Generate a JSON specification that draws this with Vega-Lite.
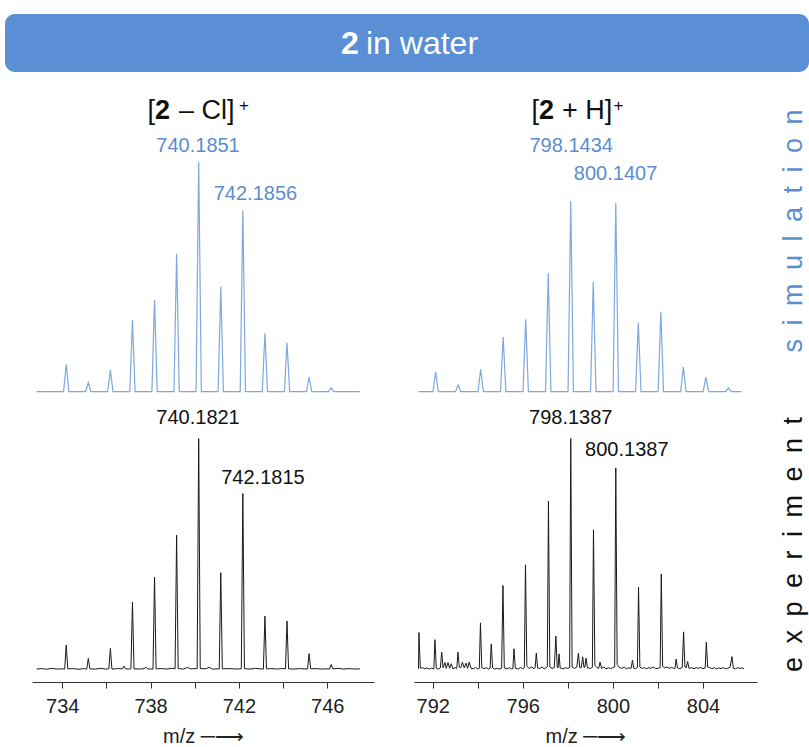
{
  "$schema": "https://vega.github.io/schema/vega-lite/v6.json",
  "autosize": {"type": "pad"},
  "padding": {"left": 5, "top": 14, "right": 0, "bottom": 0},
  "config": {"view": {"stroke": null}, "font": "Liberation Sans"},
  "datasets": {
    "ls": [
      {"mz":732.84,"i":0},
      {"mz":734.06,"i":0},{"mz":734.18,"i":11.9},{"mz":734.30,"i":0},
      {"mz":735.06,"i":0},{"mz":735.18,"i":3.9},{"mz":735.30,"i":0},
      {"mz":736.06,"i":0},{"mz":736.18,"i":9.4},{"mz":736.30,"i":0},
      {"mz":737.06,"i":0},{"mz":737.18,"i":31.2},{"mz":737.30,"i":0},
      {"mz":738.06,"i":0},{"mz":738.18,"i":39.9},{"mz":738.30,"i":0},
      {"mz":739.06,"i":0},{"mz":739.18,"i":60.0},{"mz":739.30,"i":0},
      {"mz":740.06,"i":0},{"mz":740.18,"i":100},{"mz":740.30,"i":0},
      {"mz":741.06,"i":0},{"mz":741.18,"i":45.7},{"mz":741.30,"i":0},
      {"mz":742.06,"i":0},{"mz":742.18,"i":78.9},{"mz":742.30,"i":0},
      {"mz":743.06,"i":0},{"mz":743.18,"i":25.4},{"mz":743.30,"i":0},
      {"mz":744.06,"i":0},{"mz":744.18,"i":21.3},{"mz":744.30,"i":0},
      {"mz":745.06,"i":0},{"mz":745.18,"i":6.4},{"mz":745.30,"i":0},
      {"mz":746.06,"i":0},{"mz":746.18,"i":1.7},{"mz":746.30,"i":0},
      {"mz":747.48,"i":0}
    ],
    "rs": [
      {"mz":791.36,"i":0},
      {"mz":792.01,"i":0},{"mz":792.13,"i":8.7},{"mz":792.25,"i":0},
      {"mz":793.01,"i":0},{"mz":793.13,"i":2.9},{"mz":793.25,"i":0},
      {"mz":794.01,"i":0},{"mz":794.13,"i":9.7},{"mz":794.25,"i":0},
      {"mz":795.01,"i":0},{"mz":795.13,"i":23.8},{"mz":795.25,"i":0},
      {"mz":796.01,"i":0},{"mz":796.13,"i":31.5},{"mz":796.25,"i":0},
      {"mz":797.01,"i":0},{"mz":797.13,"i":51.5},{"mz":797.25,"i":0},
      {"mz":798.01,"i":0},{"mz":798.13,"i":83.0},{"mz":798.25,"i":0},
      {"mz":799.01,"i":0},{"mz":799.13,"i":47.9},{"mz":799.25,"i":0},
      {"mz":800.01,"i":0},{"mz":800.13,"i":82.1},{"mz":800.25,"i":0},
      {"mz":801.01,"i":0},{"mz":801.13,"i":30.0},{"mz":801.25,"i":0},
      {"mz":802.01,"i":0},{"mz":802.13,"i":34.8},{"mz":802.25,"i":0},
      {"mz":803.01,"i":0},{"mz":803.13,"i":10.7},{"mz":803.25,"i":0},
      {"mz":804.01,"i":0},{"mz":804.13,"i":6.4},{"mz":804.25,"i":0},
      {"mz":805.01,"i":0},{"mz":805.13,"i":1.7},{"mz":805.25,"i":0},
      {"mz":805.73,"i":0}
    ],
    "le": [
      {"mz":732.84,"i":0.2},{"mz":733.1,"i":0.4},{"mz":733.3,"i":0.1},{"mz":733.5,"i":0.5},{"mz":733.75,"i":0.2},{"mz":734.0,"i":0.3},
      {"mz":734.11,"i":0.2},{"mz":734.18,"i":10.6},{"mz":734.25,"i":0.3},{"mz":734.5,"i":0.4},{"mz":734.75,"i":0.1},{"mz":734.95,"i":0.4},
      {"mz":735.11,"i":0.2},{"mz":735.18,"i":4.8},{"mz":735.25,"i":0.3},{"mz":735.5,"i":0.2},{"mz":735.75,"i":0.5},{"mz":735.95,"i":0.2},
      {"mz":736.11,"i":0.3},{"mz":736.18,"i":9.1},{"mz":736.25,"i":0.2},{"mz":736.5,"i":0.4},{"mz":736.72,"i":0.3},{"mz":736.79,"i":1.5},{"mz":736.86,"i":0.3},{"mz":737.0,"i":0.2},
      {"mz":737.11,"i":0.3},{"mz":737.18,"i":29.2},{"mz":737.25,"i":0.3},{"mz":737.5,"i":0.2},{"mz":737.72,"i":0.4},{"mz":737.78,"i":1.1},{"mz":737.85,"i":0.3},
      {"mz":738.11,"i":0.2},{"mz":738.18,"i":40.0},{"mz":738.25,"i":0.3},{"mz":738.5,"i":0.4},{"mz":738.75,"i":0.2},{"mz":738.95,"i":0.5},
      {"mz":739.11,"i":0.3},{"mz":739.18,"i":58.2},{"mz":739.25,"i":0.4},{"mz":739.5,"i":0.2},{"mz":739.68,"i":0.9},{"mz":739.8,"i":0.3},
      {"mz":740.11,"i":0.4},{"mz":740.18,"i":100},{"mz":740.25,"i":0.4},{"mz":740.5,"i":0.3},{"mz":740.65,"i":1.0},{"mz":740.8,"i":0.2},
      {"mz":741.11,"i":0.3},{"mz":741.18,"i":41.9},{"mz":741.25,"i":0.3},{"mz":741.5,"i":0.4},{"mz":741.75,"i":0.3},{"mz":741.95,"i":0.2},
      {"mz":742.11,"i":0.4},{"mz":742.18,"i":76.2},{"mz":742.25,"i":0.4},{"mz":742.5,"i":0.2},{"mz":742.75,"i":0.5},{"mz":742.95,"i":0.3},
      {"mz":743.11,"i":0.2},{"mz":743.18,"i":23.1},{"mz":743.25,"i":0.3},{"mz":743.5,"i":0.4},{"mz":743.75,"i":0.2},{"mz":743.95,"i":0.4},
      {"mz":744.11,"i":0.3},{"mz":744.18,"i":21.0},{"mz":744.25,"i":0.3},{"mz":744.5,"i":0.2},{"mz":744.75,"i":0.4},{"mz":744.95,"i":0.3},
      {"mz":745.11,"i":0.2},{"mz":745.18,"i":6.9},{"mz":745.25,"i":0.3},{"mz":745.5,"i":0.4},{"mz":745.75,"i":0.2},{"mz":746.0,"i":0.3},
      {"mz":746.11,"i":0.2},{"mz":746.18,"i":2.2},{"mz":746.25,"i":0.3},{"mz":746.5,"i":0.5},{"mz":746.75,"i":0.2},{"mz":747.0,"i":0.4},{"mz":747.25,"i":0.2},{"mz":747.48,"i":0.3}
    ],
    "re": [
      {"mz":791.37,"i":0.4},{"mz":791.39,"i":16.0},{"mz":791.45,"i":0.6},{"mz":791.55,"i":0.8},{"mz":791.65,"i":0.3},{"mz":791.75,"i":0.7},{"mz":791.85,"i":0.2},{"mz":791.95,"i":0.55},
      {"mz":792.05,"i":0.3},{"mz":792.10,"i":12.9},{"mz":792.16,"i":0.5},{"mz":792.25,"i":0.2},{"mz":792.34,"i":0.7},{"mz":792.40,"i":7.5},{"mz":792.46,"i":0.8},{"mz":792.55,"i":3.0},{"mz":792.6,"i":0.5},{"mz":792.68,"i":3.0},{"mz":792.75,"i":0.55},{"mz":792.82,"i":2.5},{"mz":792.9,"i":0.3},
      {"mz":793.0,"i":0.8},{"mz":793.07,"i":0.5},{"mz":793.12,"i":7.5},{"mz":793.18,"i":1.1},{"mz":793.25,"i":0.8},{"mz":793.32,"i":3.2},{"mz":793.4,"i":0.7},{"mz":793.48,"i":2.8},{"mz":793.55,"i":0.5},{"mz":793.62,"i":3.2},{"mz":793.7,"i":0.55},{"mz":793.8,"i":0.3},{"mz":793.9,"i":0.9},
      {"mz":794.0,"i":0.2},{"mz":794.07,"i":0.5},{"mz":794.12,"i":20.2},{"mz":794.18,"i":0.8},{"mz":794.28,"i":0.4},{"mz":794.38,"i":0.8},{"mz":794.48,"i":0.2},{"mz":794.55,"i":0.5},{"mz":794.60,"i":11.1},{"mz":794.66,"i":0.7},{"mz":794.75,"i":0.2},{"mz":794.85,"i":0.55},{"mz":794.95,"i":0.2},
      {"mz":795.06,"i":0.55},{"mz":795.12,"i":36.4},{"mz":795.18,"i":0.7},{"mz":795.3,"i":0.3},{"mz":795.4,"i":0.8},{"mz":795.5,"i":0.2},{"mz":795.56,"i":0.4},{"mz":795.61,"i":9.0},{"mz":795.67,"i":0.55},{"mz":795.8,"i":0.2},{"mz":795.9,"i":0.9},
      {"mz":796.0,"i":0.3},{"mz":796.07,"i":0.8},{"mz":796.12,"i":45.3},{"mz":796.18,"i":1.4},{"mz":796.28,"i":0.5},{"mz":796.4,"i":1.1},{"mz":796.5,"i":0.35},{"mz":796.55,"i":0.8},{"mz":796.60,"i":7.1},{"mz":796.66,"i":0.7},{"mz":796.75,"i":0.4},{"mz":796.85,"i":1.1},{"mz":796.95,"i":0.35},
      {"mz":797.05,"i":0.8},{"mz":797.09,"i":1.1},{"mz":797.14,"i":72.9},{"mz":797.2,"i":1.1},{"mz":797.3,"i":0.5},{"mz":797.4,"i":0.8},{"mz":797.47,"i":14.5},{"mz":797.53,"i":0.9},{"mz":797.57,"i":0.8},{"mz":797.61,"i":6.8},{"mz":797.66,"i":0.7},{"mz":797.8,"i":0.3},{"mz":797.9,"i":0.8},
      {"mz":798.0,"i":0.5},{"mz":798.08,"i":0.8},{"mz":798.13,"i":100},{"mz":798.19,"i":1.1},{"mz":798.3,"i":0.5},{"mz":798.4,"i":1.1},{"mz":798.47,"i":7.1},{"mz":798.53,"i":0.8},{"mz":798.6,"i":0.9},{"mz":798.66,"i":5.5},{"mz":798.72,"i":0.8},{"mz":798.76,"i":1.1},{"mz":798.81,"i":5.0},{"mz":798.87,"i":0.7},
      {"mz":799.0,"i":0.5},{"mz":799.09,"i":0.9},{"mz":799.14,"i":60.5},{"mz":799.2,"i":1.8},{"mz":799.3,"i":0.8},{"mz":799.37,"i":0.5},{"mz":799.43,"i":3.2},{"mz":799.5,"i":0.5},{"mz":799.6,"i":1.1},{"mz":799.7,"i":0.3},{"mz":799.8,"i":0.8},{"mz":799.9,"i":0.4},
      {"mz":800.0,"i":0.8},{"mz":800.08,"i":1.1},{"mz":800.13,"i":87.3},{"mz":800.19,"i":2.2},{"mz":800.3,"i":0.8},{"mz":800.4,"i":0.5},{"mz":800.5,"i":1.1},{"mz":800.6,"i":0.35},{"mz":800.7,"i":0.7},{"mz":800.81,"i":0.5},{"mz":800.87,"i":4.0},{"mz":800.93,"i":0.55},
      {"mz":801.0,"i":0.4},{"mz":801.09,"i":0.9},{"mz":801.14,"i":35.7},{"mz":801.2,"i":1.1},{"mz":801.3,"i":0.5},{"mz":801.4,"i":0.8},{"mz":801.5,"i":0.35},{"mz":801.6,"i":0.8},{"mz":801.7,"i":0.55},{"mz":801.8,"i":1.1},{"mz":801.9,"i":0.4},
      {"mz":802.0,"i":0.55},{"mz":802.1,"i":0.8},{"mz":802.15,"i":41.4},{"mz":802.21,"i":1.4},{"mz":802.3,"i":0.7},{"mz":802.4,"i":1.1},{"mz":802.5,"i":0.5},{"mz":802.6,"i":0.9},{"mz":802.7,"i":0.5},{"mz":802.76,"i":0.55},{"mz":802.81,"i":4.5},{"mz":802.87,"i":0.7},{"mz":802.95,"i":0.4},
      {"mz":803.08,"i":0.8},{"mz":803.14,"i":16.3},{"mz":803.2,"i":1.1},{"mz":803.26,"i":0.8},{"mz":803.32,"i":3.5},{"mz":803.38,"i":0.5},{"mz":803.5,"i":0.8},{"mz":803.6,"i":0.35},{"mz":803.7,"i":0.8},{"mz":803.8,"i":0.5},{"mz":803.9,"i":0.9},
      {"mz":804.0,"i":0.35},{"mz":804.1,"i":0.7},{"mz":804.15,"i":11.9},{"mz":804.21,"i":1.1},{"mz":804.3,"i":0.8},{"mz":804.4,"i":0.4},{"mz":804.5,"i":0.8},{"mz":804.6,"i":0.3},{"mz":804.7,"i":0.7},{"mz":804.8,"i":0.4},{"mz":804.9,"i":0.8},
      {"mz":805.0,"i":0.35},{"mz":805.1,"i":0.55},{"mz":805.2,"i":0.9},{"mz":805.29,"i":5.6},{"mz":805.35,"i":0.5},{"mz":805.45,"i":0.3},{"mz":805.55,"i":0.8},{"mz":805.65,"i":0.5},{"mz":805.75,"i":0.7},{"mz":805.82,"i":0.3}
    ]
  },
  "vconcat": [
    {
      "width": 804, "height": 58,
      "view": {"fill": "#5a8fd6", "cornerRadius": 10, "stroke": null},
      "data": {"values": [{}]},
      "layer": [
        {"mark": {"type": "text", "text": "2", "fontWeight": "bold", "fontSize": 32, "color": "white", "align": "left", "baseline": "alphabetic", "dx": -66, "dy": 11}},
        {"mark": {"type": "text", "text": "in water", "fontSize": 32, "color": "white", "align": "left", "baseline": "alphabetic", "dx": -41, "dy": 11}}
      ]
    },
    {
      "spacing": 7,
      "vconcat": [
        {
          "spacing": 0,
          "hconcat": [
            {"width": 27, "height": 10, "data": {"values": [{}]}, "mark": {"type": "text", "text": ""}},
            {
              "width": 342, "height": 301,
              "layer": [
                {"data": {"name": "ls"}, "mark": {"type": "line", "color": "#7fa8de", "strokeWidth": 1.2},
                 "encoding": {"x": {"field": "mz", "type": "quantitative", "scale": {"domain": [732.63, 748.12], "nice": false, "zero": false}, "axis": null},
                              "y": {"field": "i", "type": "quantitative", "scale": {"domain": [-1, 130], "nice": false, "zero": false}, "axis": null}}},
                {"data": {"values": [{"mz": 740.15, "i": 106.9, "t": "740.1851"}, {"mz": 742.75, "i": 86.0, "t": "742.1856"}]},
                 "mark": {"type": "text", "fontSize": 20, "color": "#5b8ed0", "baseline": "middle"},
                 "encoding": {"x": {"field": "mz", "type": "quantitative", "scale": {"domain": [732.63, 748.12], "nice": false, "zero": false}},
                              "y": {"field": "i", "type": "quantitative", "scale": {"domain": [-1, 130], "nice": false, "zero": false}},
                              "text": {"field": "t"}}},
                {"data": {"values": [{}]},
                 "mark": {"type": "text", "text": "[", "fontSize": 27, "color": "#111", "align": "right", "baseline": "alphabetic", "dx": -48},
                 "encoding": {"x": {"datum": 740.375, "type": "quantitative", "scale": {"domain": [732.63, 748.12], "nice": false, "zero": false}},
                              "y": {"datum": 118.6, "type": "quantitative", "scale": {"domain": [-1, 130], "nice": false, "zero": false}}}},
                {"data": {"values": [{}]},
                 "mark": {"type": "text", "text": "2", "fontSize": 27, "fontWeight": "bold", "color": "#111", "align": "left", "baseline": "alphabetic", "dx": -48},
                 "encoding": {"x": {"datum": 740.375, "type": "quantitative", "scale": {"domain": [732.63, 748.12], "nice": false, "zero": false}},
                              "y": {"datum": 118.6, "type": "quantitative", "scale": {"domain": [-1, 130], "nice": false, "zero": false}}}},
                {"data": {"values": [{}]},
                 "mark": {"type": "text", "text": "–\u00a0Cl]", "fontSize": 27, "color": "#111", "align": "left", "baseline": "alphabetic", "dx": -24},
                 "encoding": {"x": {"datum": 740.375, "type": "quantitative", "scale": {"domain": [732.63, 748.12], "nice": false, "zero": false}},
                              "y": {"datum": 118.6, "type": "quantitative", "scale": {"domain": [-1, 130], "nice": false, "zero": false}}}},
                {"data": {"values": [{}]},
                 "mark": {"type": "text", "text": "+", "fontSize": 17, "color": "#111", "align": "left", "baseline": "alphabetic", "dx": 36, "dy": -8},
                 "encoding": {"x": {"datum": 740.375, "type": "quantitative", "scale": {"domain": [732.63, 748.12], "nice": false, "zero": false}},
                              "y": {"datum": 118.6, "type": "quantitative", "scale": {"domain": [-1, 130], "nice": false, "zero": false}}}}
              ]
            },
            {"width": 40, "height": 10, "data": {"values": [{}]}, "mark": {"type": "text", "text": ""}},
            {
              "width": 343, "height": 301,
              "layer": [
                {"data": {"name": "rs"}, "mark": {"type": "line", "color": "#7fa8de", "strokeWidth": 1.2},
                 "encoding": {"x": {"field": "mz", "type": "quantitative", "scale": {"domain": [791.17, 806.4], "nice": false, "zero": false}, "axis": null},
                              "y": {"field": "i", "type": "quantitative", "scale": {"domain": [-1, 130], "nice": false, "zero": false}, "axis": null}}},
                {"data": {"values": [{"mz": 798.15, "i": 106.9, "t": "798.1434"}, {"mz": 800.12, "i": 94.6, "t": "800.1407"}]},
                 "mark": {"type": "text", "fontSize": 20, "color": "#5b8ed0", "baseline": "middle"},
                 "encoding": {"x": {"field": "mz", "type": "quantitative", "scale": {"domain": [791.17, 806.4], "nice": false, "zero": false}},
                              "y": {"field": "i", "type": "quantitative", "scale": {"domain": [-1, 130], "nice": false, "zero": false}},
                              "text": {"field": "t"}}},
                {"data": {"values": [{}]},
                 "mark": {"type": "text", "text": "[", "fontSize": 27, "color": "#111", "align": "right", "baseline": "alphabetic", "dx": -46.5},
                 "encoding": {"x": {"datum": 798.785, "type": "quantitative", "scale": {"domain": [791.17, 806.4], "nice": false, "zero": false}},
                              "y": {"datum": 118.6, "type": "quantitative", "scale": {"domain": [-1, 130], "nice": false, "zero": false}}}},
                {"data": {"values": [{}]},
                 "mark": {"type": "text", "text": "2", "fontSize": 27, "fontWeight": "bold", "color": "#111", "align": "left", "baseline": "alphabetic", "dx": -46.5},
                 "encoding": {"x": {"datum": 798.785, "type": "quantitative", "scale": {"domain": [791.17, 806.4], "nice": false, "zero": false}},
                              "y": {"datum": 118.6, "type": "quantitative", "scale": {"domain": [-1, 130], "nice": false, "zero": false}}}},
                {"data": {"values": [{}]},
                 "mark": {"type": "text", "text": "+\u00a0H]", "fontSize": 27, "color": "#111", "align": "left", "baseline": "alphabetic", "dx": -23.5},
                 "encoding": {"x": {"datum": 798.785, "type": "quantitative", "scale": {"domain": [791.17, 806.4], "nice": false, "zero": false}},
                              "y": {"datum": 118.6, "type": "quantitative", "scale": {"domain": [-1, 130], "nice": false, "zero": false}}}},
                {"data": {"values": [{}]},
                 "mark": {"type": "text", "text": "+", "fontSize": 17, "color": "#111", "align": "left", "baseline": "alphabetic", "dx": 28, "dy": -8},
                 "encoding": {"x": {"datum": 798.785, "type": "quantitative", "scale": {"domain": [791.17, 806.4], "nice": false, "zero": false}},
                              "y": {"datum": 118.6, "type": "quantitative", "scale": {"domain": [-1, 130], "nice": false, "zero": false}}}}
              ]
            },
            {"width": 52, "height": 276, "data": {"values": [{}]},
             "mark": {"type": "text", "text": "s\u2002i\u2002m\u2002u\u2002l\u2002a\u2002t\u2002i\u2002o\u2002n", "fontSize": 27, "color": "#5b8ed0", "angle": 270, "align": "center", "baseline": "alphabetic", "dy": 18.7}}
          ]
        },
        {
          "spacing": 0,
          "hconcat": [
            {"width": 27, "height": 10, "data": {"values": [{}]}, "mark": {"type": "text", "text": ""}},
            {
              "width": 342, "height": 279,
              "layer": [
                {"data": {"name": "le"}, "mark": {"type": "line", "color": "#1a1a1a", "strokeWidth": 1},
                 "encoding": {"x": {"field": "mz", "type": "quantitative", "scale": {"domain": [732.63, 748.12], "nice": false, "zero": false},
                                    "axis": {"values": [734, 736, 738, 740, 742, 744, 746], "labelExpr": "datum.value % 4 == 2 ? datum.label : ''", "title": "m/z \u2500\u27F6", "grid": false, "domainColor": "#333", "tickColor": "#333", "tickSize": 6, "labelFontSize": 20, "labelColor": "#222", "labelPadding": 8, "labelOverlap": false, "labelFlush": false, "titleFontSize": 20, "titleFontWeight": "normal", "titleColor": "#222", "titlePadding": 10}},
                              "y": {"field": "i", "type": "quantitative", "scale": {"domain": [-5.4, 115.4], "nice": false, "zero": false}, "axis": null}}},
                {"data": {"values": [{"mz": 740.15, "i": 108.9, "t": "740.1821"}, {"mz": 743.09, "i": 82.9, "t": "742.1815"}]},
                 "mark": {"type": "text", "fontSize": 20, "color": "#111", "baseline": "middle"},
                 "encoding": {"x": {"field": "mz", "type": "quantitative", "scale": {"domain": [732.63, 748.12], "nice": false, "zero": false}},
                              "y": {"field": "i", "type": "quantitative", "scale": {"domain": [-5.4, 115.4], "nice": false, "zero": false}},
                              "text": {"field": "t"}}}
              ]
            },
            {"width": 40, "height": 10, "data": {"values": [{}]}, "mark": {"type": "text", "text": ""}},
            {
              "width": 343, "height": 279,
              "layer": [
                {"data": {"name": "re"}, "mark": {"type": "line", "color": "#1a1a1a", "strokeWidth": 1},
                 "encoding": {"x": {"field": "mz", "type": "quantitative", "scale": {"domain": [791.17, 806.4], "nice": false, "zero": false},
                                    "axis": {"values": [792, 794, 796, 798, 800, 802, 804], "labelExpr": "datum.value % 4 == 0 ? datum.label : ''", "title": "m/z \u2500\u27F6", "grid": false, "domainColor": "#333", "tickColor": "#333", "tickSize": 6, "labelFontSize": 20, "labelColor": "#222", "labelPadding": 8, "labelOverlap": false, "labelFlush": false, "titleFontSize": 20, "titleFontWeight": "normal", "titleColor": "#222", "titlePadding": 10}},
                              "y": {"field": "i", "type": "quantitative", "scale": {"domain": [-5.4, 115.4], "nice": false, "zero": false}, "axis": null}}},
                {"data": {"values": [{"mz": 798.13, "i": 108.9, "t": "798.1387"}, {"mz": 800.62, "i": 95.2, "t": "800.1387"}]},
                 "mark": {"type": "text", "fontSize": 20, "color": "#111", "baseline": "middle"},
                 "encoding": {"x": {"field": "mz", "type": "quantitative", "scale": {"domain": [791.17, 806.4], "nice": false, "zero": false}},
                              "y": {"field": "i", "type": "quantitative", "scale": {"domain": [-5.4, 115.4], "nice": false, "zero": false}},
                              "text": {"field": "t"}}}
              ]
            },
            {"width": 52, "height": 283, "data": {"values": [{}]},
             "mark": {"type": "text", "text": "e\u2002x\u2002p\u2002e\u2002r\u2002i\u2002m\u2002e\u2002n\u2002t", "fontSize": 27, "color": "#111", "angle": 270, "align": "center", "baseline": "alphabetic", "dy": 18.7}}
          ]
        }
      ]
    }
  ]
}
